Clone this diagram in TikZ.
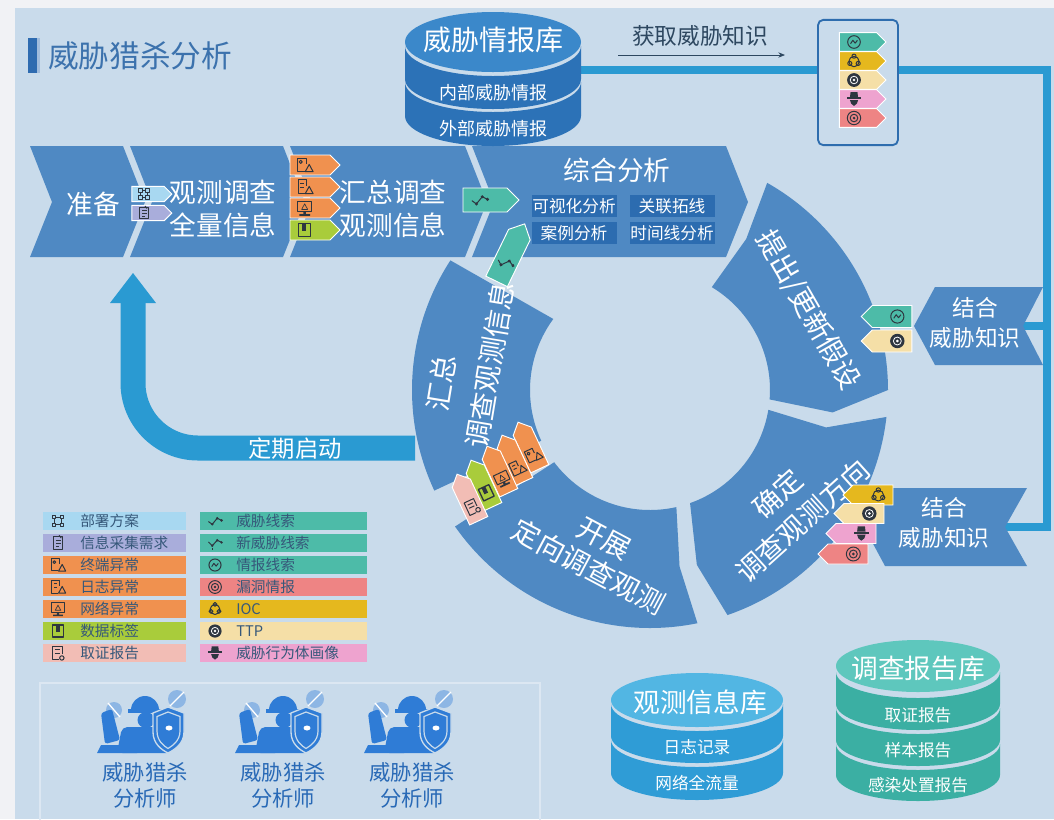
\documentclass[tikz,border=0pt]{standalone}
\usepackage{fontspec}
\setmainfont{Noto Sans CJK SC}
\usetikzlibrary{arrows.meta, shapes.symbols, positioning}

\definecolor{pageside}{HTML}{F1F2F5}
\definecolor{panel}{HTML}{C9DBEB}
\definecolor{stepblue}{HTML}{4F89C3}
\definecolor{deepblue}{HTML}{2C6CB0}
\definecolor{railcyan}{HTML}{2A9AD2}
\definecolor{titleblue}{HTML}{3C72AD}
\definecolor{barblue}{HTML}{2E6BB0}
\definecolor{boxblue}{HTML}{2E6DAE}
\definecolor{inktext}{HTML}{2D4760}
\definecolor{legtext}{HTML}{36587A}
\definecolor{icondark}{HTML}{2E3640}
\definecolor{tagsky}{HTML}{A8D8F1}
\definecolor{taglav}{HTML}{A9ADDB}
\definecolor{tagorange}{HTML}{F0914F}
\definecolor{taggreen}{HTML}{A9CC3B}
\definecolor{tagblush}{HTML}{F2BDB5}
\definecolor{tagteal}{HTML}{4DBBA8}
\definecolor{tagsalmon}{HTML}{EE8484}
\definecolor{tagyellow}{HTML}{E5B81E}
\definecolor{tagcream}{HTML}{F5DFA7}
\definecolor{tagpink}{HTML}{EEA3CF}
\definecolor{intelhead}{HTML}{3B88CA}
\definecolor{intelslice}{HTML}{2C72B7}
\definecolor{obshead}{HTML}{52B6E3}
\definecolor{obsslice}{HTML}{2F9CD6}
\definecolor{rephead}{HTML}{5EC7BD}
\definecolor{repslice}{HTML}{3BAFA3}
\definecolor{hunterblue}{HTML}{2F7CD6}
\definecolor{huntersoft}{HTML}{8DB6E4}
\definecolor{framelight}{HTML}{DCE7F2}

% database pieces: top ellipse and one slice of the stack
\newcommand{\dbhead}[5]{\fill[#5] (#1,#2) ellipse [x radius=#3, y radius=#4];}
\newcommand{\dbslice}[6]{%
  \fill[#6] (#1-#4,#2) -- (#1-#4,#3)
    arc [start angle=180, end angle=0, x radius=#4, y radius=#5]
    -- (#1+#4,#2)
    arc [start angle=0, end angle=180, x radius=#4, y radius=#5] -- cycle;}

% small pictograms (pixel units, y down)
\tikzset{
  ico/.style = {draw = icondark, line width = .75pt, line join = round},
  pics/i-deploy/.style = {code = {
    \foreach \u/\v in {-3.5/-3.5, 3.5/-3.5, -3.5/3.5, 3.5/3.5}
      \draw[ico] (\u-1.6,\v-1.6) rectangle (\u+1.6,\v+1.6);
    \draw[ico] (-1.9,-3.5) -- (1.9,-3.5) (-1.9,3.5) -- (1.9,3.5)
               (-3.5,-1.9) -- (-3.5,1.9) (3.5,-1.9) -- (3.5,1.9);
  }},
  pics/i-form/.style = {code = {
    \draw[ico] (-4.5,-5.5) rectangle (4.5,5.5);
    \draw[ico] (-2,-2.5) -- (2.5,-2.5) (-2,0.5) -- (2.5,0.5) (-2,3) -- (1,3);
    \draw[ico] (1,-7) -- (3,-4.5);
  }},
  pics/i-host/.style = {code = {
    \draw[ico] (1.5,-1) -- (1.5,-5.5) -- (-6,-5.5) -- (-6,5) -- (0,5);
    \draw[ico] (-3.3,-2.6) circle [radius = 1.3];
    \draw[ico] (0.5,5.5) -- (3.8,-0.5) -- (7,5.5) -- cycle;
  }},
  pics/i-log/.style = {code = {
    \draw[ico] (1.5,-1) -- (1.5,-6) -- (-5.5,-6) -- (-5.5,5.5) -- (0,5.5);
    \draw[ico] (-3.5,-3) -- (-0.5,-3) (-3.5,0) -- (-0.5,0);
    \draw[ico] (0.5,5.5) -- (3.8,-0.5) -- (7,5.5) -- cycle;
  }},
  pics/i-net/.style = {code = {
    \draw[ico] (-6,-5.5) rectangle (6,3);
    \fill[icondark] (-1,3) rectangle (1,5) (-4.5,5) rectangle (4.5,6.5);
    \draw[ico, line width = .5pt] (-2.5,1.2) -- (0,-3.5) -- (2.5,1.2) -- cycle;
  }},
  pics/i-mark/.style = {code = {
    \draw[ico, line width = 1pt] (-5,-5.5) rectangle (5,5.5);
    \fill[icondark] (-2,-5.5) rectangle (1.5,0.5);
  }},
  pics/i-report/.style = {code = {
    \draw[ico] (4,1) -- (4,-6) -- (-5,-6) -- (-5,6) -- (1,6);
    \draw[ico] (-3,-3) -- (2,-3) (-3,0) -- (2,0);
    \draw[ico] (3.5,4.5) circle [radius = 2];
  }},
  pics/i-trail/.style = {code = {
    \draw[ico] (-6,0.5) -- (-2.5,3) -- (2,-2.5) -- (6,-0.5);
    \foreach \p in {(-2.5,3), (2,-2.5), (6,-0.5)} \fill[icondark] \p circle [radius = 1.3];
  }},
  pics/i-newtrail/.style = {code = {
    \draw[ico] (-6,-1) -- (-2.5,2.5) -- (2,-2.5) -- (6,-0.5);
    \foreach \p in {(-2.5,2.5), (2,-2.5), (6,-0.5)} \fill[icondark] \p circle [radius = 1.2];
    \draw[ico] (-2.5,4.5) -- (-2.5,6.5);
  }},
  pics/i-intel/.style = {code = {
    \draw[ico] (0,0) circle [radius = 5.5];
    \draw[ico] (-3,1.5) -- (-1,-1.5) -- (1,1) -- (3,-1.5);
  }},
  pics/i-vuln/.style = {code = {
    \draw[ico] (0,0) circle [radius = 5.8];
    \draw[ico] (0,0) circle [radius = 3.3];
    \fill[icondark] (0,0) circle [radius = 1.3];
  }},
  pics/i-ioc/.style = {code = {
    \draw[ico] (0,0.5) circle [radius = 4.5];
    \foreach \a in {-90, 30, 150} \draw[ico] (\a:4.2) circle [radius = 1.8];
  }},
  pics/i-ttp/.style = {code = {
    \fill[icondark] (0,0) circle [radius = 6];
    \draw[white, line width = .6pt] (0,0) circle [radius = 3.3];
    \fill[white] (0,0) circle [radius = 1.2];
  }},
  pics/i-actor/.style = {code = {
    \fill[icondark] (-6.5,-1.5) rectangle (6.5,0);
    \fill[icondark] (-3.5,-1.5) -- (-3,-6) -- (3,-6) -- (3.5,-1.5) -- cycle;
    \fill[icondark] (-3.5,1) -- (3.5,1) -- (2.5,4) -- (0,6) -- (-2.5,4) -- cycle;
  }},
  pics/hunter/.style = {code = {
    \fill[huntersoft] (-31,-12) circle [radius = 8];
    \draw[white, line width = 1pt] (-37,-19) -- (-25,-5);
    \fill[huntersoft] (32,-23) circle [radius = 9];
    \draw[white, line width = 1pt] (25,-16) -- (39,-30);
    \fill[hunterblue] (-14,-12) arc [start angle = 180, end angle = 360, radius = 14] -- cycle;
    \fill[hunterblue] (-17,-13) rectangle (16,-9.5);
    \fill[hunterblue] (1,-2) ellipse [x radius = 8.5, y radius = 8];
    \fill[hunterblue, rounded corners = 4pt] (-28,31) -- (-23,5) -- (23,5) -- (27,31) -- cycle;
    \fill[hunterblue, rounded corners = 2pt] (-40,22) -- (-44,-9) -- (-33,-13) -- (-25,18) -- cycle;
    \fill[hunterblue] (-44,23) -- (-12,23) -- (-8,31) -- (-48,31) -- cycle;
    \filldraw[hunterblue, draw = panel, line width = 1pt]
      (8,-9) -- (23,-15) -- (39,-9) -- (39,10) .. controls (39,22) and (29,28) .. (23,31)
      .. controls (17,28) and (8,22) .. (8,10) -- cycle;
    \draw[panel, line width = .9pt]
      (12,-5.5) -- (23,-10) -- (35,-5.5) -- (35,9) .. controls (35,19) and (27,24) .. (23,26.5)
      .. controls (19,24) and (12,19) .. (12,9) -- cycle;
    \fill[white] (24,6) ellipse [x radius = 3.5, y radius = 2.5];
  }}
}

\begin{document}
\begin{tikzpicture}[
      x = .75pt, y = -.75pt,
      stepfill/.style = {fill = stepblue},
      onstep/.style   = {text = white, align = center, inner sep = 0pt,
                         font = \fontsize{20pt}{24.75pt}\selectfont},
      onring/.style   = {text = white, align = center, inner sep = 0pt,
                         font = \fontsize{21pt}{25pt}\selectfont},
      subbox/.style   = {fill = deepblue, text = white, inner sep = 0pt,
                         minimum width = 63.75pt, minimum height = 17pt,
                         font = \fontsize{12.5pt}{14pt}\selectfont},
      tagbox/.style   = {signal, draw = white, line width = .7pt, inner sep = 0pt,
                         signal pointer angle = 90},
      rail/.style     = {draw = railcyan, line width = 6pt},
      sweep/.style    = {draw = railcyan, line width = 18.75pt},
      thinarr/.style  = {draw = inktext, line width = .6pt, -{Stealth[length = 5pt, width = 4pt]}},
      legrow/.style   = {minimum width = 107.25pt, minimum height = 13.5pt, inner sep = 0pt},
      legtxt/.style   = {anchor = west, text = legtext, inner sep = 0pt,
                         font = \fontsize{11pt}{13pt}\selectfont},
      dbtxt/.style    = {text = white, inner sep = 0pt, font = \fontsize{12.5pt}{14pt}\selectfont},
      dbhead/.style   = {text = white, inner sep = 0pt, font = \fontsize{20pt}{22pt}\selectfont},
      bannertxt/.style= {text = white, align = center, inner sep = 0pt,
                         font = \fontsize{17pt}{22pt}\selectfont},
      huntertxt/.style= {text = hunterblue!85!black, align = center, inner sep = 0pt,
                         font = \fontsize{16pt}{19.5pt}\selectfont}
    ]

  % ---------- page ------------------------------------------------------
  \fill[pageside] (0,0) rectangle (1054,819);
  \fill[panel] (15,8) rectangle (1054,819);
  \useasboundingbox (0,0) rectangle (1054,819);

  \fill[barblue] (28,38) rectangle (37,73);
  \fill[barblue!45] (37,38) rectangle (40,73);
  \node[anchor = west, text = titleblue, inner sep = 0pt,
        font = \fontsize{23pt}{27pt}\selectfont] (title) at (48,56) {威胁猎杀分析};

  % ---------- knowledge rail --------------------------------------------
  \coordinate (intelEdge) at (581,70);
  \coordinate (railNE)    at (1047,70);
  \coordinate (railTee)   at (1047,326);
  \coordinate (railSE)    at (1047,527);
  \coordinate (knowUpTip) at (1023,326);
  \coordinate (knowLoTip) at (1005,527);
  \draw[rail] (intelEdge) -- (railNE) -- (railSE) -- (knowLoTip);
  \draw[rail] (railTee) -- (knowUpTip);

  \node[draw = boxblue, line width = 1.4pt, fill = panel, rounded corners = 4pt,
        minimum width = 60pt, minimum height = 94pt] (kbox) at (858,82.5) {};
  \foreach \c/\ic [count = \i] in {tagteal/i-intel, tagyellow/i-ioc, tagcream/i-ttp,
                                   tagpink/i-actor, tagsalmon/i-vuln} {
    \node[tagbox, signal to = east, fill = \c, minimum width = 35pt,
          minimum height = 14pt] (kt\i) at (858,{42+19*(\i-1)}) {};
    \pic[scale = 1.15] at ([xshift = -3pt]kt\i.center) {\ic};
  }

  \node[text = inktext, inner sep = 0pt, font = \fontsize{17pt}{20pt}\selectfont]
        (fetch) at (700,36) {获取威胁知识};
  \coordinate (fetchA) at (618,55);
  \coordinate (fetchB) at (785,55);
  \draw[thinarr] (fetchA) -- (fetchB);

  % ---------- top row of steps ------------------------------------------
  \fill[stepfill] (30,146) -- (123,146) -- (145,202) -- (123,257) -- (30,257) -- (52,202) -- cycle;
  \fill[stepfill] (130,146) -- (283,146) -- (305,202) -- (283,257) -- (130,257) -- (152,202) -- cycle;
  \fill[stepfill] (290,146) -- (465,146) -- (487,202) -- (465,257) -- (290,257) -- (312,202) -- cycle;
  \fill[stepfill] (472,146) -- (726,146) -- (748,202) -- (726,257) -- (472,257) -- (494,202) -- cycle;

  \node[onstep] (prep)   at (93,204)  {准备};
  \node[onstep] (survey) at (223,209) {观测调查\\全量信息};
  \node[onstep] (gather) at (393,209) {汇总调查\\观测信息};
  \node[onstep] (synth)  at (617,170) {综合分析};
  \node[subbox] (visA)  at (574,206) {可视化分析};
  \node[subbox] (linkA) at (672,206) {关联拓线};
  \node[subbox] (caseA) at (574,233) {案例分析};
  \node[subbox] (timeA) at (672,233) {时间线分析};

  % ---------- threat intel store ----------------------------------------
  \dbslice{493}{82}{116}{88}{30}{intelslice}
  \dbslice{493}{46}{79}{88}{30}{intelslice}
  \dbhead{493}{42}{88}{30}{intelhead}
  \node[dbhead, font = \fontsize{21pt}{23pt}\selectfont] (intelTitle) at (493,40) {威胁情报库};
  \node[dbtxt, font = \fontsize{13.5pt}{15pt}\selectfont] (intelIn)  at (493,93)  {内部威胁情报};
  \node[dbtxt, font = \fontsize{13.5pt}{15pt}\selectfont] (intelOut) at (493,129) {外部威胁情报};

  % ---------- the hunting loop ------------------------------------------
  \begin{scope}[shift = {(650,390)}]
    \fill[stepfill] (-60.5:238) arc [start angle = -60.5, end angle = 0, radius = 238]
      -- (7:184) -- (4.5:120) arc [start angle = 4.5, end angle = -59, radius = 120]
      -- (-57.5:179) -- cycle;
    \fill[stepfill] (6.5:238) arc [start angle = 6.5, end angle = 71, radius = 238]
      -- (75:181) -- (70.5:120) arc [start angle = 70.5, end angle = 9.5, radius = 120]
      -- (12:180) -- cycle;
    \fill[stepfill] (78.5:238) arc [start angle = 78.5, end angle = 145, radius = 238]
      -- (143:120) arc [start angle = 143, end angle = 77.3, radius = 120]
      -- (80.5:179) -- cycle;
    \fill[stepfill] (155:238) arc [start angle = 155, end angle = 213, radius = 238]
      -- (216.3:120) arc [start angle = 216.3, end angle = 155, radius = 120] -- cycle;
  \end{scope}

  \node[onring, rotate = 80.5] (sumA) at (441,383) {汇总};
  \node[onring, rotate = 80.5] (sumB) at (490,365) {调查观测信息};
  \node[onring, rotate = -28, font = \fontsize{21pt}{24.75pt}\selectfont]
        (runA) at (596,553) {开展\\定向调查观测};
  \node[onring, rotate = -60] (hypo) at (808,310) {提出/更新假设};
  \node[onring, rotate = 42, font = \fontsize{21pt}{27.5pt}\selectfont]
        (aimA) at (790,507) {确定\\调查观测方向};

  % ---------- flags on the row ------------------------------------------
  \node[tagbox, signal to = east, fill = tagsky, minimum width = 30pt,
        minimum height = 11.5pt] (tDeploy) at (148,194) {};
  \pic at ([xshift = -3pt]tDeploy.center) {i-deploy};
  \node[tagbox, signal to = east, fill = taglav, minimum width = 30pt,
        minimum height = 11.5pt] (tForm) at (148,213) {};
  \pic at ([xshift = -3pt]tForm.center) {i-form};

  \foreach \c/\ic/\yy [count = \i] in {tagorange/i-host/165, tagorange/i-log/187,
                                       tagorange/i-net/208, taggreen/i-mark/230} {
    \node[tagbox, signal to = east, fill = \c, minimum width = 37.5pt,
          minimum height = 15pt] (tFeed\i) at (310,\yy) {};
    \pic[scale = 1.2] at ([xshift = -4pt]tFeed\i.center) {\ic};
  }

  \node[tagbox, signal to = east, fill = tagteal, minimum width = 42pt,
        minimum height = 18pt] (tTrail) at (485,200) {};
  \pic[scale = 1.3] at ([xshift = -4pt]tTrail.center) {i-trail};

  % flags on the loop
  \foreach \c/\ic/\px/\py [count = \i] in {tagorange/i-host/531/450, tagorange/i-log/515/463,
                                           tagorange/i-net/500/474, taggreen/i-mark/484/488,
                                           tagblush/i-report/470/502} {
    \node[tagbox, signal to = north, fill = \c, rotate = 25, minimum width = 15pt,
          minimum height = 31pt] (tBack\i) at (\px,\py) {};
    \pic[rotate = 25, scale = 1.15] at ([xshift = 1.7pt, yshift = -3.6pt]tBack\i.center) {\ic};
  }
  \node[tagbox, signal to = north, fill = tagteal, rotate = -26, minimum width = 18pt,
        minimum height = 39pt] (tUp) at (508,258) {};
  \pic[rotate = -26, scale = 1.3] at ([xshift = -1.8pt, yshift = -3.6pt]tUp.center) {i-trail};

  % ---------- combine threat knowledge ----------------------------------
  \fill[stepfill] (935,287) -- (1043,287) -- (1023,326) -- (1043,365) -- (935,365) -- (914,326) -- cycle;
  \node[bannertxt] (knowUp) at (975,323) {结合\\威胁知识};
  \foreach \c/\ic/\yy [count = \i] in {tagteal/i-intel/316.5, tagcream/i-ttp/341} {
    \node[tagbox, signal to = west, fill = \c, minimum width = 38pt,
          minimum height = 16.5pt] (tUpK\i) at (892,\yy) {};
    \pic[scale = 1.2] at ([xshift = 4pt]tUpK\i.center) {\ic};
  }

  \fill[stepfill] (885,488) -- (1027,488) -- (1005,527) -- (1027,566) -- (885,566) -- (864,527) -- cycle;
  \node[bannertxt] (knowLo) at (944,523) {结合\\威胁知识};
  \foreach \c/\ic/\px/\py [count = \i] in {tagyellow/i-ioc/873/495, tagcream/i-ttp/864/513.5,
                                           tagpink/i-actor/856/533.5, tagsalmon/i-vuln/848/554} {
    \node[tagbox, signal to = west, fill = \c, minimum width = 37.5pt,
          minimum height = 15pt] (tLoK\i) at (\px,\py) {};
    \pic[scale = 1.2] at ([xshift = 4pt]tLoK\i.center) {\ic};
  }

  % ---------- periodic restart ------------------------------------------
  \coordinate (loopEnd) at (415,448);
  \coordinate (loopTop) at (133,302);
  \draw[sweep] (loopEnd) -- (198,448) arc [start angle = 90, end angle = 180, radius = 65] -- (loopTop);
  \fill[railcyan] (110,303) -- (133,273) -- (156,303) -- cycle;
  \node[text = white, inner sep = 0pt, font = \fontsize{17.5pt}{20pt}\selectfont]
        (restart) at (295,449) {定期启动};

  % ---------- legend ----------------------------------------------------
  \foreach \ic/\c/\txt [count = \i] in {i-deploy/tagsky/部署方案, i-form/taglav/信息采集需求,
        i-host/tagorange/终端异常, i-log/tagorange/日志异常, i-net/tagorange/网络异常,
        i-mark/taggreen/数据标签, i-report/tagblush/取证报告} {
    \node[legrow, fill = \c] (legA\i) at (114.5,{521+22*(\i-1)}) {};
    \pic[scale = 1.1] at (58,{521+22*(\i-1)}) {\ic};
    \node[legtxt] (legAt\i) at (80,{521+22*(\i-1)}) {\txt};
  }
  \foreach \ic/\c/\txt [count = \i] in {i-trail/tagteal/威胁线索, i-newtrail/tagteal/新威胁线索,
        i-intel/tagteal/情报线索, i-vuln/tagsalmon/漏洞情报, i-ioc/tagyellow/IOC,
        i-ttp/tagcream/TTP, i-actor/tagpink/威胁行为体画像} {
    \node[legrow, fill = \c, minimum width = 125.25pt] (legB\i) at (283.5,{521+22*(\i-1)}) {};
    \pic[scale = 1.1] at (215,{521+22*(\i-1)}) {\ic};
    \node[legtxt] (legBt\i) at (236,{521+22*(\i-1)}) {\txt};
  }

  % ---------- analysts --------------------------------------------------
  \draw[framelight, line width = .8pt] (40,683) rectangle (540,830);
  \foreach \xx [count = \i] in {145, 283, 412} {
    \pic at (\xx,722) {hunter};
    \node[huntertxt] (hunter\i) at (\xx,785) {威胁猎杀\\分析师};
  }

  % ---------- stores ----------------------------------------------------
  \dbslice{697}{740}{773}{86}{27}{obsslice}
  \dbslice{697}{704}{736}{86}{27}{obsslice}
  \dbhead{697}{700}{86}{27}{obshead}
  \node[dbhead] (obsTitle) at (700,702) {观测信息库};
  \node[dbtxt] (obsLog)  at (697,747) {日志记录};
  \node[dbtxt] (obsFlow) at (697,783) {网络全流量};

  \dbslice{918}{744}{775}{82}{26}{repslice}
  \dbslice{918}{708}{740}{82}{26}{repslice}
  \dbslice{918}{672}{704}{82}{26}{repslice}
  \dbhead{918}{666}{82}{26}{rephead}
  \node[dbhead] (repTitle)   at (918,668) {调查报告库};
  \node[dbtxt] (repForensic) at (918,715) {取证报告};
  \node[dbtxt] (repSample)   at (918,750) {样本报告};
  \node[dbtxt] (repCleanup)  at (918,785) {感染处置报告};

\end{tikzpicture}
\end{document}
